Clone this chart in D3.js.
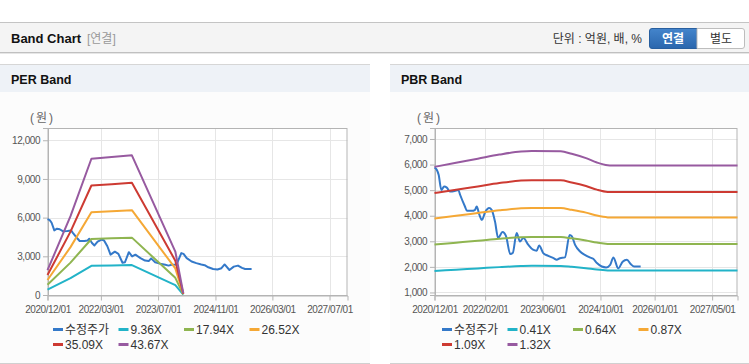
<!DOCTYPE html>
<html>
<head>
<meta charset="utf-8">
<title>Band Chart</title>
<script src="https://d3js.org/d3.v7.min.js"></script>
<style>
    body { margin: 0; background: #fff; }
    svg { display: block; font-family: "Liberation Sans", "Noto Sans CJK KR", sans-serif; }
</style>
</head>
<body>
<svg width="749" height="364"></svg>
<script>
// 수정주가 (same series on both charts)
const priceDates = ['2020-12-01','2020-12-20','2021-01-05','2021-01-28','2021-02-20','2021-03-15','2021-04-10','2021-05-20',
    '2021-06-20','2021-07-05','2021-08-15','2021-09-01','2021-10-12','2021-11-08','2021-11-22','2021-12-15','2022-01-05',
    '2022-02-01','2022-03-07','2022-03-28','2022-04-25','2022-05-22','2022-06-28','2022-07-28','2022-09-01','2022-09-22',
    '2022-10-25','2022-11-22','2022-12-20','2023-02-01','2023-03-12','2023-04-12','2023-05-03','2023-06-06','2023-07-18',
    '2023-09-01','2023-09-28','2023-10-25','2023-12-06','2024-01-15','2024-02-03','2024-03-01','2024-04-12','2024-05-22',
    '2024-07-03','2024-08-01','2024-09-01','2024-10-12','2024-11-18','2024-12-22','2025-01-18','2025-02-28','2025-04-06',
    '2025-05-12','2025-06-15','2025-07-12','2025-09-05'];
const priceValues = [5880,5800,5600,5010,5140,5100,4950,4970,
    5010,4820,4360,4190,4190,4230,4360,4030,3840,
    4140,4300,4230,3780,3130,3360,3190,2500,2540,
    3320,2990,3125,2860,2670,2630,2840,2540,2430,
    2340,2280,2340,2370,3250,3190,2860,2600,2470,
    2370,2315,2150,2015,1980,2080,2370,1940,2200,
    2280,2100,2015,2015];

// PER band
const perLabels = ['수정주가', '9.36X', '17.94X', '26.52X', '35.09X', '43.67X'];
const perBandDates = ['2020-12-01','2021-06-15','2021-12-10','2022-06-01','2022-11-20','2023-11-25','2024-02-01'];
const perBandValues = [
    [412, 1310, 2265, 2293, 2321, 760, 28],
    [789, 2512, 4341, 4395, 4449, 1330, 54],
    [1167, 3713, 6418, 6497, 6577, 2060, 80],
    [1544, 4913, 8492, 8597, 8702, 2660, 105],
    [1921, 6114, 10568, 10699, 10830, 3370, 131]
];
const perYTicks = [0, 3000, 6000, 9000, 12000];
const perXTicks = ['2020-12-01','2022-03-01','2023-07-01','2024-11-01','2026-03-01','2027-07-01'];

// PBR band
const pbrLabels = ['수정주가', '0.41X', '0.64X', '0.87X', '1.09X', '1.32X'];
const pbrBandDates = ['2020-12-01','2021-06-01','2021-12-01','2022-06-01','2022-12-01','2023-03-01','2023-11-01',
    '2024-02-01','2024-06-01','2024-09-01','2024-12-01','2025-01-01','2027-12-01'];
const pbrBandValues = [
    [1840, 1890, 1940, 1990, 2030, 2040, 2035, 2005, 1950, 1895, 1860, 1855, 1855],
    [2870, 2945, 3020, 3100, 3160, 3170, 3165, 3115, 3030, 2950, 2895, 2890, 2890],
    [3890, 4000, 4105, 4210, 4290, 4305, 4300, 4230, 4120, 4005, 3935, 3930, 3930],
    [4890, 5015, 5145, 5275, 5375, 5390, 5385, 5300, 5160, 5020, 4930, 4925, 4925],
    [5910, 6070, 6230, 6390, 6510, 6530, 6520, 6420, 6250, 6080, 5970, 5960, 5960]
];
const pbrYTicks = [1000, 2000, 3000, 4000, 5000, 6000, 7000];
const pbrXTicks = ['2020-12-01','2022-02-01','2023-06-01','2024-10-01','2026-01-01','2027-05-01'];

const colors = ['#3479c9', '#22b3c8', '#8fb550', '#f5a835', '#cd3a32', '#975aa0'];
const parse = d3.timeParse('%Y-%m-%d');
const xDomain = [parse('2020-12-01'), parse('2027-12-01')];

const svg = d3.select('svg');

// 상단 헤더
svg.append('rect').attr('x', 0).attr('y', 23).attr('width', 749).attr('height', 29).attr('fill', '#f4f4f4');
svg.append('line').attr('x1', 0).attr('x2', 749).attr('y1', 22.5).attr('y2', 22.5).attr('stroke', '#c4c4c4');
svg.append('line').attr('x1', 0).attr('x2', 749).attr('y1', 52.5).attr('y2', 52.5).attr('stroke', '#c0c0c0');
svg.append('line').attr('x1', 0).attr('x2', 749).attr('y1', 53.5).attr('y2', 53.5).attr('stroke', '#e6e6e6');
svg.append('text').text('Band Chart').attr('x', 11).attr('y', 43).attr('font-size', 13).attr('font-weight', 'bold').attr('fill', '#111');
svg.append('text').text('[연결]').attr('x', 87).attr('y', 43).attr('font-size', 12).attr('fill', '#999');
svg.append('text').text('단위 : 억원, 배, %').attr('x', 642).attr('y', 43).attr('text-anchor', 'end').attr('font-size', 12).attr('fill', '#333');

const grad = svg.append('defs').append('linearGradient').attr('id', 'btn').attr('x1', 0).attr('x2', 0).attr('y1', 0).attr('y2', 1);
grad.append('stop').attr('offset', 0).attr('stop-color', '#4485cc');
grad.append('stop').attr('offset', 1).attr('stop-color', '#2a66ad');
svg.append('path').attr('d', 'M697,28.5 H652 Q649.5,28.5 649.5,31 V46 Q649.5,48.5 652,48.5 H697 Z')
    .attr('fill', 'url(#btn)').attr('stroke', '#285f9f');
svg.append('path').attr('d', 'M697,28.5 H742 Q744.5,28.5 744.5,31 V46 Q744.5,48.5 742,48.5 H697 Z')
    .attr('fill', '#fff').attr('stroke', '#bdbdbd');
svg.append('text').text('연결').attr('x', 673).attr('y', 43).attr('text-anchor', 'middle').attr('font-size', 12).attr('font-weight', 'bold').attr('fill', '#fff');
svg.append('text').text('별도').attr('x', 721).attr('y', 43).attr('text-anchor', 'middle').attr('font-size', 12).attr('fill', '#333');

// 패널
function drawPanel(x0, x1, title) {
    svg.append('rect').attr('x', x0).attr('y', 92).attr('width', x1 - x0).attr('height', 271).attr('fill', '#fcfcfc');
    svg.append('rect').attr('x', x0).attr('y', 65).attr('width', x1 - x0).attr('height', 27).attr('fill', '#eef2f7');
    svg.append('line').attr('x1', x0).attr('x2', x1).attr('y1', 64.5).attr('y2', 64.5).attr('stroke', '#d6d6d6');
    svg.append('line').attr('x1', x0).attr('x2', x1).attr('y1', 363.5).attr('y2', 363.5).attr('stroke', '#d0d0d0');
    svg.append('text').text(title).attr('x', x0 + 11).attr('y', 84).attr('font-size', 12.5).attr('font-weight', 'bold').attr('fill', '#111');
}
drawPanel(0, 370, 'PER Band');
drawPanel(390, 749, 'PBR Band');

function drawChart(cfg) {
    const g = svg.append('g');
    const x = d3.scaleTime().domain(xDomain).range([cfg.left, cfg.right]);
    const y = d3.scaleLinear().domain(cfg.yDomain).range([cfg.bottom, cfg.top]);
    const xt = cfg.xTicks.map(parse);

    g.append('rect').attr('x', cfg.left).attr('y', cfg.top).attr('width', cfg.right - cfg.left).attr('height', cfg.bottom - cfg.top).attr('fill', '#fff');

    // 격자
    g.append('g').selectAll('line').data(cfg.yTicks).join('line')
        .attr('x1', cfg.left).attr('x2', cfg.right)
        .attr('y1', d => Math.round(y(d)) + 0.5).attr('y2', d => Math.round(y(d)) + 0.5)
        .attr('stroke', '#e6e6e6');
    g.append('g').selectAll('line').data(xt).join('line')
        .attr('x1', d => Math.round(x(d)) + 0.5).attr('x2', d => Math.round(x(d)) + 0.5)
        .attr('y1', cfg.top).attr('y2', cfg.bottom)
        .attr('stroke', '#e6e6e6');

    g.append('rect').attr('x', cfg.left + 0.5).attr('y', cfg.top + 0.5)
        .attr('width', cfg.right - cfg.left - 1).attr('height', cfg.bottom - cfg.top)
        .attr('fill', 'none').attr('stroke', '#b4b4b4');

    const yAxis = g.append('g').attr('transform', 'translate(' + (cfg.left + 0.5) + ',0)')
        .call(d3.axisLeft(y).tickValues(cfg.yTicks).tickSize(5).tickPadding(3).tickFormat(d3.format(',')));
    const xAxis = g.append('g').attr('transform', 'translate(0,' + (cfg.bottom + 0.5) + ')')
        .call(d3.axisBottom(x).tickValues(xt).tickSize(5).tickPadding(5).tickFormat(d3.timeFormat('%Y/%m/%d')));
    [yAxis, xAxis].forEach(a => {
        a.attr('font-family', null).attr('font-size', null);
        a.select('.domain').attr('stroke', '#b4b4b4');
        a.selectAll('line').attr('stroke', '#b4b4b4');
        a.selectAll('text').attr('font-size', 10).attr('letter-spacing', -0.45).attr('fill', '#555');
    });

    g.append('text').text('(원)').attr('x', cfg.left - 5).attr('y', 122).attr('text-anchor', 'middle')
        .attr('font-size', 12).attr('fill', '#666').attr('letter-spacing', 2);

    const line = d3.line().x(d => x(d[0])).y(d => y(d[1])).curve(cfg.priceCurve);

    const price = priceDates.map((d, i) => [parse(d), priceValues[i]]);
    g.append('path').datum(price).attr('d', line)
        .attr('fill', 'none').attr('stroke', colors[0]).attr('stroke-width', 2).attr('stroke-linejoin', 'round');

    const bandLine = d3.line().x(d => x(d[0])).y(d => y(d[1])).curve(cfg.curve);
    cfg.bandValues.forEach((vals, k) => {
        const pts = cfg.bandDates.map((d, i) => [parse(d), vals[i]]);
        g.append('path').datum(pts).attr('d', bandLine)
            .attr('fill', 'none').attr('stroke', colors[k + 1]).attr('stroke-width', 2).attr('stroke-linejoin', 'round');
    });

    // 범례
    const leg = g.append('g').selectAll('g').data(cfg.labels).join('g')
        .attr('transform', (d, i) => 'translate(' + (cfg.legendX + (i % 4) * cfg.legendStep) + ',' + (329 + Math.floor(i / 4) * 15) + ')');
    leg.append('line').attr('x1', 0).attr('x2', 10).attr('y1', 0.5).attr('y2', 0.5)
        .attr('stroke', (d, i) => colors[i]).attr('stroke-width', 3);
    leg.append('text').text(d => d).attr('x', 12).attr('y', 4.5).attr('font-size', 12).attr('fill', '#333');
}

drawChart({
    left: 47.5, right: 347.5, top: 128, bottom: 295,
    yDomain: [0, 12950], yTicks: perYTicks, xTicks: perXTicks,
    bandDates: perBandDates, bandValues: perBandValues, labels: perLabels,
    curve: d3.curveLinear, priceCurve: d3.curveLinear, legendX: 53, legendStep: 65.5
});
drawChart({
    left: 434.5, right: 737.5, top: 128, bottom: 295,
    yDomain: [900, 7430], yTicks: pbrYTicks, xTicks: pbrXTicks,
    bandDates: pbrBandDates, bandValues: pbrBandValues, labels: pbrLabels,
    curve: d3.curveMonotoneX, priceCurve: d3.curveMonotoneX, legendX: 442, legendStep: 65.5
});
</script>
</body>
</html>
